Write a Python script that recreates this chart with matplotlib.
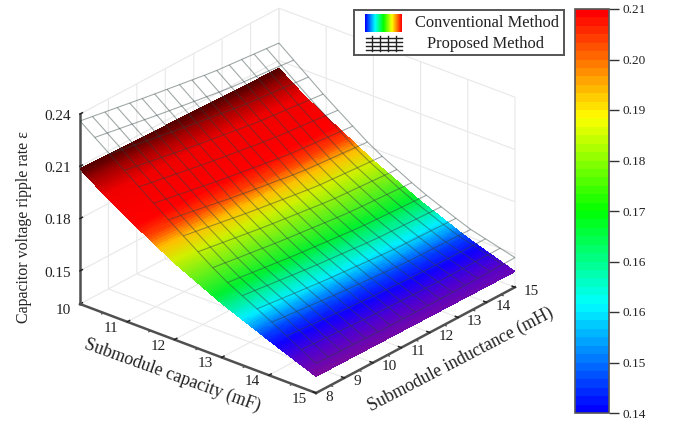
import numpy as np
import matplotlib
matplotlib.use("Agg")
import matplotlib.pyplot as plt
from matplotlib.colors import LinearSegmentedColormap, Normalize
from matplotlib.cm import ScalarMappable
from mpl_toolkits.mplot3d import proj3d

plt.rcParams['font.family'] = ['Liberation Serif', 'DejaVu Serif']

# ---- data ----
capacity_ticks = [10, 11, 12, 13, 14, 15]
inductance_ticks = [8, 9, 10, 11, 12, 13, 14, 15]
ripple_ticks = [0.15, 0.18, 0.21, 0.24]
capacity_minor = [10.5, 11.5, 12.5, 13.5, 14.5]
inductance_minor = [8.5, 9.5, 10.5, 11.5, 12.5, 13.5, 14.5]

surface_C = [10, 10.5, 11, 12, 13, 14, 15]
surface_L = [8, 15]
conventional_L8 = [0.2085, 0.199, 0.1905, 0.175, 0.162, 0.151, 0.1405]
conventional_L15 = [0.2055, 0.196, 0.188, 0.173, 0.160, 0.149, 0.1400]

wire_C = [10, 11, 12, 13, 14, 15]
wire_L = [8, 10.33, 12.67, 15]
proposed_L8 = [0.236, 0.216, 0.196, 0.177, 0.163, 0.148]
proposed_L10 = [0.2295, 0.209, 0.189, 0.172, 0.159, 0.147]
proposed_L13 = [0.2235, 0.203, 0.183, 0.168, 0.156, 0.147]
proposed_L15 = [0.220, 0.199, 0.180, 0.166, 0.155, 0.148]

colorbar_ticks = [0.14, 0.14875, 0.1575, 0.16625, 0.175, 0.18375, 0.1925, 0.20125, 0.21]
colorbar_labels = ['0.14', '0.15', '0.16', '0.16', '0.17', '0.18', '0.19', '0.20', '0.21']
legend_labels = ['Conventional Method', 'Proposed Method']
axis_titles = ['Submodule capacity (mF)', 'Submodule inductance (mH)', 'Capacitor voltage ripple rate ε']

W, H = 674, 424
fig = plt.figure(figsize=(W / 100, H / 100), dpi=100)
ax = fig.add_axes([0, 0, 1, 1], projection='3d', proj_type='ortho', computed_zorder=False)
ax.view_init(elev=26.6, azim=-49.9)
ax.patch.set_alpha(0)
ax.set_xlim(10, 15)
ax.set_ylim(8, 15)
ax.set_zlim(0.131, 0.24)

# surface
surface_cmap = LinearSegmentedColormap.from_list('surf', [
    (0.000, '#7d0a9c'), (0.073, '#5000d0'), (0.131, '#1000ff'), (0.175, '#0040ff'),
    (0.248, '#00f0ff'), (0.350, '#00f030'), (0.518, '#d0f000'), (0.584, '#ffc000'),
    (0.642, '#ff4000'), (0.700, '#ff0000'), (0.860, '#f00000'), (0.940, '#a80000'),
    (1.000, '#580000')])
surface_norm = Normalize(0.1405, 0.2085)
cc = np.linspace(10, 15, 121)
ll = np.linspace(8, 15, 41)
CC, LL = np.meshgrid(cc, ll)
z8 = np.interp(cc, surface_C, conventional_L8)
z15 = np.interp(cc, surface_C, conventional_L15)
t = (ll - 8) / 7
ZS = np.outer(1 - t, z8) + np.outer(t, z15)
fc = surface_cmap(surface_norm(ZS + 0.003 * t[:, None]))
surf = ax.plot_surface(CC, LL, ZS, facecolors=fc, rstride=1, cstride=1, shade=False,
                       linewidth=0, antialiased=False, zorder=2)
surf.set_clip_on(False)

# proposed wireframe
wire_rows = np.array([proposed_L8, proposed_L10, proposed_L13, proposed_L15])
wc = np.linspace(10, 15, 17)
wl = np.linspace(8, 15, 17)
tmp = np.array([np.interp(wc, wire_C, r) for r in wire_rows])
ZW = np.array([np.interp(wl, wire_L, tmp[:, j]) for j in range(tmp.shape[1])]).T
WC, WL = np.meshgrid(wc, wl)
wire = ax.plot_wireframe(WC, WL, ZW, rstride=1, cstride=1, color='#2f4040', alpha=0.45,
                         linewidth=0.8, zorder=3)
wire.set_clip_on(False)

# ticks and labels
ax.set_xticks(capacity_ticks)
ax.set_yticks(inductance_ticks)
ax.set_zticks(ripple_ticks)
ax.set_xticklabels([str(v) for v in capacity_ticks], ha='right', va='bottom')
ax.set_yticklabels([str(v) for v in inductance_ticks], ha='left', va='bottom')
ax.set_zticklabels(['%.2f' % v for v in ripple_ticks], va='center_baseline')
ax.tick_params(axis='both', labelsize=11, colors='#222222')
ax.tick_params(axis='x', pad=-1)
ax.tick_params(axis='y', pad=-2)
ax.tick_params(axis='z', pad=0)
ax.zaxis.set_ticks_position('lower')
for axis in (ax.xaxis, ax.yaxis, ax.zaxis):
    axis.set_pane_color((1, 1, 1, 0))
    axis.pane.set_edgecolor('#d8d8d8')
    axis.pane.set_linewidth(1.0)
    axis.line.set_color('#505050')
    axis.line.set_linewidth(1.8)
    axis._axinfo['grid'].update(color='#e8e8e8', linewidth=0.8, linestyle='-')
    axis._axinfo['tick'].update(inward_factor=0.0, outward_factor=0.15, linewidth={True: 1.1, False: 0.8}, color='#505050')

# axis titles, placed on the figure at the measured spots
fig.text(172 / W, 1 - 375 / H, axis_titles[0], fontsize=12.9, rotation=-19.8, rotation_mode='anchor',
         ha='center', va='center', color='#222222')
fig.text(461 / W, 1 - 360 / H, axis_titles[1], fontsize=12.9, rotation=27.5, rotation_mode='anchor',
         ha='center', va='center', color='#222222')
fig.text(24 / W, 1 - 227 / H, axis_titles[2], fontsize=11.4, rotation=90, rotation_mode='anchor',
         ha='center', va='center', color='#222222')

# minor ticks
for c in capacity_minor:
    ax.plot([c, c], [8, 7.93], [0.131, 0.131], color='#505050', lw=0.9, zorder=1, clip_on=False)
for l in inductance_minor:
    ax.plot([15, 15.05], [l, l], [0.131, 0.131], color='#505050', lw=0.9, zorder=1, clip_on=False)

# placement: fit projected box onto measured pixel corners
def corner_px(x, y, z):
    fig.canvas.draw()
    X, Y, _ = proj3d.proj_transform(x, y, z, ax.get_proj())
    return ax.transData.transform((X, Y))

ax.set_box_aspect((308.6, 308.9, 212.5), zoom=1.0)
a = corner_px(10, 8, 0.131)
b = corner_px(15, 15, 0.131)
zoom = (515 - 80) / (b[0] - a[0])
ax.set_box_aspect((308.6, 308.9, 212.5), zoom=zoom)
a = corner_px(10, 8, 0.131)
dx = (80 - a[0]) / W
dy = ((H - 304) - a[1]) / H
ax.set_position([dx, dy, 1, 1])

# colorbar
cb_cmap = LinearSegmentedColormap.from_list('cb', [
    (0.0, '#0000ff'), (0.267, '#00ffff'), (0.50, '#00ff00'), (0.735, '#ffff00'), (1.0, '#ff0000')], N=48)
cax = fig.add_axes([575 / W, 1 - 413 / H, 34 / W, 404 / H])
cbar = fig.colorbar(ScalarMappable(Normalize(0.14, 0.21), cb_cmap), cax=cax)
cbar.set_ticks(colorbar_ticks)
cbar.set_ticklabels(colorbar_labels)
cbar.ax.tick_params(length=7, width=1, labelsize=9.5, color='#333333', labelcolor='#222222', pad=3)
cbar.outline.set_edgecolor('#555555')
cbar.outline.set_linewidth(1.2)
cbar.minorticks_off()

# legend
lax = fig.add_axes([354 / W, 1 - 55 / H, 210 / W, 45 / H])
lax.set_xticks([])
lax.set_yticks([])
for s in lax.spines.values():
    s.set_color('#555555')
    s.set_linewidth(1.4)
grad = cb_cmap(np.linspace(0, 1, 48))[None, :, :]
lax.imshow(grad, extent=[365, 402, 32, 14], aspect='auto', interpolation='bilinear')
for yy in [38, 42, 46, 50]:
    lax.plot([366, 402], [yy, yy], color='#222222', lw=1)
for xx in [372, 380, 388, 396]:
    lax.plot([xx, xx], [36, 51], color='#222222', lw=1)
lax.set_xlim(354, 564)
lax.set_ylim(55, 10)
lax.text(487, 23, legend_labels[0], ha='center', va='center', fontsize=11.9, color='#222222')
lax.text(486, 44, legend_labels[1], ha='center', va='center', fontsize=11.9, color='#222222')

fig.savefig('out.png', dpi=100)
